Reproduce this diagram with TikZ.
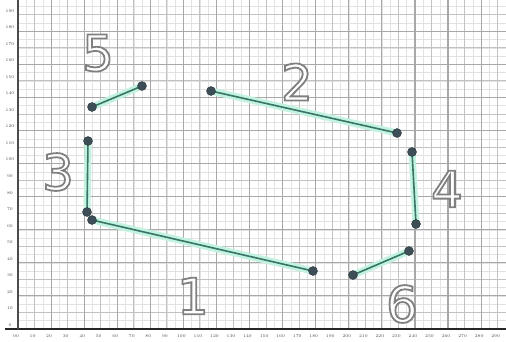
\documentclass[tikz,border=0pt]{standalone}
\usepackage{fontspec}
\newfontfamily\digitfont{DejaVu Sans}
\definecolor{segline}{HTML}{3A7467}
\definecolor{segglow}{HTML}{C2F2E0}
\definecolor{dotfill}{HTML}{3E4E57}
\newcommand\hollowdigit[1]{\textcolor{white}{\special{pdf:literal direct q 2 Tr 1.8 w 0.5 G}#1\special{pdf:literal direct Q}}}
\begin{document}
\begin{tikzpicture}[x=1pt,y=-1pt,
  minorgrid/.style={draw=black!11,line width=0.5pt},
  majorgrid/.style={draw=black!24,line width=0.9pt},
  heavygrid/.style={draw=black!34,line width=1.1pt},
  axisline/.style={draw=black!85,line width=1.6pt},
  ticklab/.style={font=\fontsize{4.2}{5}\selectfont,text=black!70,inner sep=0pt},
  glow/.style={draw=segglow,line width=7pt,line cap=round},
  seg/.style={draw=segline,line width=1.6pt},
  pt/.style={circle,fill=dotfill,draw=dotfill!70!black,line width=0.4pt,minimum size=9pt,inner sep=0pt},
  digit/.style={font=\digitfont\fontsize{50}{50}\selectfont,inner sep=0pt}
]
\useasboundingbox (0,0) rectangle (506,341);
\fill[white] (0,0) rectangle (506,341);
% grid
\foreach \i in {0,...,59} {
  \draw[minorgrid] ({18+8.27*\i},0) -- ({18+8.27*\i},329);
}
\foreach \j in {0,...,40} {
  \draw[minorgrid] (18,{329-8.27*\j}) -- (506,{329-8.27*\j});
}
\foreach \i in {1,...,29} {
  \draw[majorgrid] ({18+16.54*\i},0) -- ({18+16.54*\i},329);
}
\foreach \j in {1,...,19} {
  \draw[majorgrid] (18,{329-16.54*\j}) -- (506,{329-16.54*\j});
}
\foreach \i in {1,...,14} {
  \draw[heavygrid] ({18+33.08*\i},0) -- ({18+33.08*\i},329);
}
\foreach \j in {1,...,9} {
  \draw[heavygrid] (18,{329-33.08*\j}) -- (506,{329-33.08*\j});
}
% axes
\draw[axisline] (5,329) -- (506,329);
\draw[draw=black!70,line width=1.2pt] (18,0) -- (18,329);
% tick labels
\node[ticklab] (yl0) at (10,325) {0};
\foreach \j in {1,...,19} {
  \node[ticklab] (yl\j) at (10,{325-16.54*\j}) {\j0};
}
\foreach \i in {0,...,29} {
  \node[ticklab] (xl\i) at ({16+16.54*\i},336) {\i0};
}
% endpoints
\coordinate (a1) at (92,220);
\coordinate (b1) at (313,271);
\coordinate (a2) at (211,91);
\coordinate (b2) at (397,133);
\coordinate (a3) at (88,141);
\coordinate (b3) at (87,212);
\coordinate (a4) at (412,152);
\coordinate (b4) at (416,224);
\coordinate (a5) at (92,107);
\coordinate (b5) at (142,86);
\coordinate (a6) at (409,251);
\coordinate (b6) at (353,275);
% glow
\foreach \s in {1,...,6} {
  \draw[glow] (a\s) -- (b\s);
}
% segments
\foreach \s in {1,...,6} {
  \draw[seg] (a\s) -- (b\s);
}
% dots
\foreach \s in {1,...,6} {
  \node[pt] (pa\s) at (a\s) {};
  \node[pt] (pb\s) at (b\s) {};
}
% digits
\node[digit] (d5) at (98,53) {\hollowdigit{5}};
\node[digit] (d2) at (297,82) {\hollowdigit{2}};
\node[digit] (d3) at (58,172) {\hollowdigit{3}};
\node[digit] (d4) at (447,189) {\hollowdigit{4}};
\node[digit] (d1) at (193,296) {\hollowdigit{1}};
\node[digit] (d6) at (402,304) {\hollowdigit{6}};
\end{tikzpicture}
\end{document}
